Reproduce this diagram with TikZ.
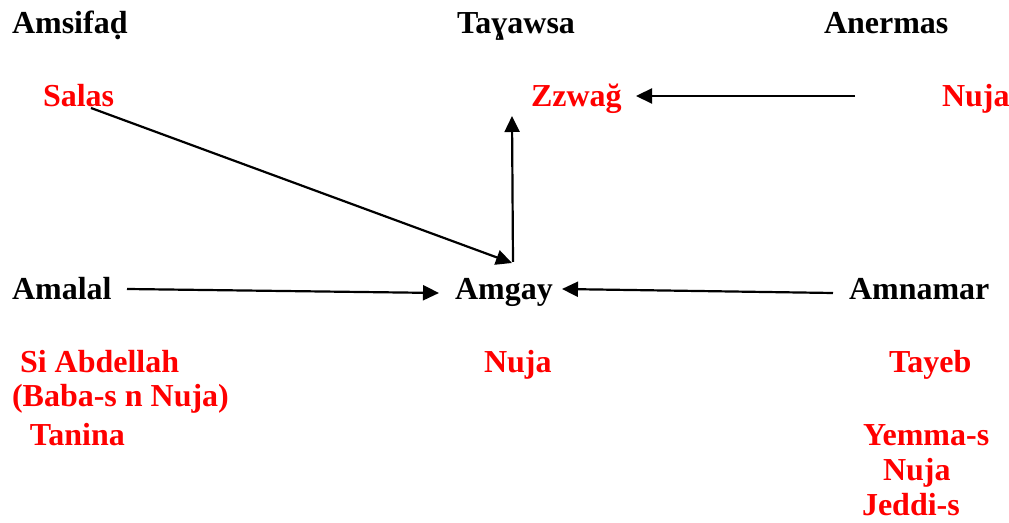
\documentclass[tikz,border=0pt]{standalone}
\usepackage{fontspec}
\setmainfont{Liberation Serif}
\usetikzlibrary{arrows.meta}
\definecolor{kred}{RGB}{255,0,0}
\tikzset{
  lbl/.style={anchor=base west, inner sep=0pt, outer sep=0pt, font=\fontsize{16}{19}\selectfont\bfseries, text=black},
  nm/.style={lbl, text=kred},
  arr/.style={line width=1.1pt, -{Triangle[length=8pt,width=7.5pt]}}
}
\begin{document}
\begin{tikzpicture}[x=0.5pt,y=-0.5pt]
\useasboundingbox (0,0) rectangle (1009,523);
% headers
\node[lbl] (amsifad) at (12,34) {Amsifaḍ};
\node[lbl] (tayawsa) at (457,34) {Taɣawsa};
\node[lbl] (anermas) at (824,34) {Anermas};
% names top row
\node[nm] (salas) at (43,107) {Salas};
\node[nm] (zzwag) at (531,107) {Zzwağ};
\node[nm] (nujatop) at (942,107) {Nuja};
% middle row
\node[lbl] (amalal) at (12,300) {Amalal};
\node[lbl] (amgay) at (455,300) {Amgay};
\node[lbl] (amnamar) at (849,300) {Amnamar};
% lower names
\node[nm] (siabd) at (20,373) {Si Abdellah};
\node[nm] (baba) at (12,407) {(Baba-s n Nuja)};
\node[nm] (tanina) at (30,446) {Tanina};
\node[nm] (nujamid) at (484,373) {Nuja};
\node[nm] (tayeb) at (889,373) {Tayeb};
\node[nm] (yemmas) at (863,446) {Yemma-s};
\node[nm] (nujalow) at (883,481) {Nuja};
\node[nm] (jeddis) at (862,516) {Jeddi-s};
% connector points
\coordinate (salasfoot) at (91,108);
\coordinate (hub) at (512,263);
\coordinate (hubtail) at (513,262);
\coordinate (zzwagfoot) at (512,116);
\coordinate (nujatail) at (855,96);
\coordinate (zzwaghead) at (636,96);
\coordinate (amalaltail) at (127,289);
\coordinate (amgayhead) at (439,293);
\coordinate (amnamartail) at (833,293);
\coordinate (amgayheadr) at (562,289);
% arrows
\draw[arr] (salasfoot) -- (hub);
\draw[arr] (hubtail) -- (zzwagfoot);
\draw[arr] (nujatail) -- (zzwaghead);
\draw[arr] (amalaltail) -- (amgayhead);
\draw[arr] (amnamartail) -- (amgayheadr);
\end{tikzpicture}
\end{document}
